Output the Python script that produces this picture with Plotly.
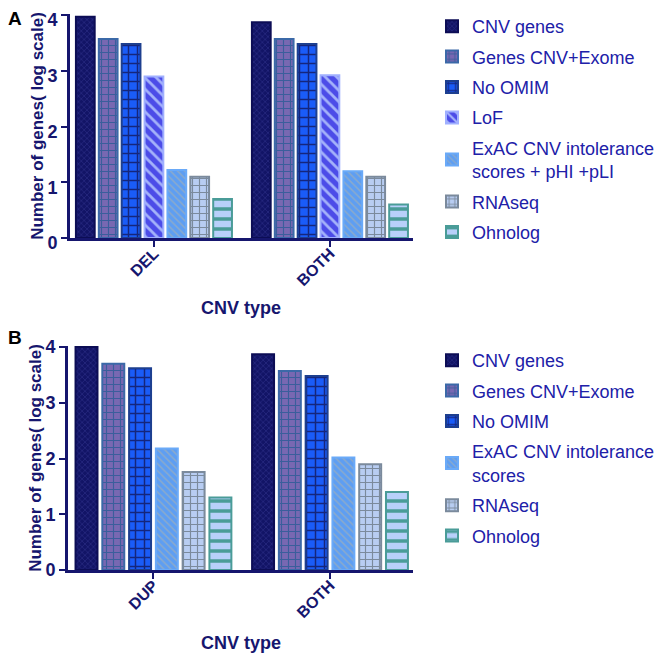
import plotly.graph_objects as go

# ---------------- data ----------------
cats_a = ["DEL", "BOTH"]
series_a = ["CNV genes", "Genes CNV+Exome", "No OMIM", "LoF",
            "ExAC CNV intolerance<br>scores + pHI +pLI", "RNAseq", "Ohnolog"]
values_a = [
    [3.97, 3.87],
    [3.57, 3.57],
    [3.48, 3.48],
    [2.90, 2.92],
    [1.22, 1.20],
    [1.10, 1.10],
    [0.70, 0.60],
]

cats_b = ["DUP", "BOTH"]
series_b = ["CNV genes", "Genes CNV+Exome", "No OMIM",
            "ExAC CNV intolerance<br>scores", "RNAseq", "Ohnolog"]
values_b = [
    [4.00, 3.87],
    [3.70, 3.57],
    [3.62, 3.48],
    [2.18, 2.02],
    [1.76, 1.90],
    [1.30, 1.40],
]

y_ticks = [0, 1, 2, 3, 4]

# ---------------- styles ----------------
styles = {
    "CNV genes": dict(bg="#121466", fg="#2a2d84", shape="x", size=4, solidity=0.3, line="#0c0d55"),
    "Genes CNV+Exome": dict(bg="#7868b2", fg="#3a5e9c", shape="+", size=7, solidity=0.3, line="#3b69a8"),
    "No OMIM": dict(bg="#1a5cf8", fg="#15267c", shape="+", size=9, solidity=0.3, line="#1d3f8f"),
    "LoF": dict(bg="#4c4ce8", fg="#a4b2fa", shape="\\", size=8, solidity=0.35, line="#a0b0ff"),
    "ExAC": dict(bg="#5e9ef2", fg="#8aaacc", shape="\\", size=5, solidity=0.3, line="#6aaaf8"),
    "RNAseq": dict(bg="#b8cdf2", fg="#7b8a9c", shape="+", size=7, solidity=0.3, line="#7b8a9c"),
    "Ohnolog": dict(bg="#b8d0fa", fg="#4a9c98", shape="-", size=10, solidity=0.35, line="#4a9c98"),
}

def style_for(name):
    if name.startswith("ExAC"):
        return styles["ExAC"]
    return styles[name]

NAVY = "#16166e"
LEG = "#2020a8"
FAM = "Liberation Sans, Arial"

# page body has an 8px margin, so the figure is drawn 8px in from the window edge
W, H, OFF = 658, 648, 8

def px_x(x):
    return (x - OFF) / W

def px_y(y):
    return 1 - (y - OFF) / H

fig = go.Figure()

def add_panel(cats, series, values, xa, ya, legend, grp):
    for name, vals in zip(series, values):
        s = style_for(name)
        fig.add_trace(go.Bar(
            x=cats, y=vals, name=name, xaxis=xa, yaxis=ya,
            legend=legend, legendgroup=grp + name,
            marker=dict(
                color=s["bg"],
                line=dict(color=s["line"], width=2),
                pattern=dict(shape=s["shape"], bgcolor=s["bg"], fgcolor=s["fg"],
                             size=s["size"], solidity=s["solidity"], fillmode="replace"),
            ),
        ))

add_panel(cats_a, series_a, values_a, "x", "y", "legend", "a")
add_panel(cats_b, series_b, values_b, "x2", "y2", "legend2", "b")

def xaxis_cfg(domain, anchor, rng):
    return dict(domain=domain, anchor=anchor, range=rng, showline=True, linecolor=NAVY,
                linewidth=3, ticks="outside", ticklen=6, tickwidth=2, tickcolor=NAVY,
                tickangle=-45, automargin=False, ticklabelstandoff=-9,
                tickfont=dict(family=FAM, size=16, color=NAVY, weight="bold"),
                showgrid=False, zeroline=False, fixedrange=True)

def yaxis_cfg(domain, anchor, shift=0):
    return dict(domain=domain, anchor=anchor, range=[0, 4.02], tickvals=y_ticks,
                showline=True, linecolor=NAVY, linewidth=3, ticks="outside", ticklen=6,
                tickwidth=2, tickcolor=NAVY, showgrid=False, zeroline=False, automargin=False,
                ticklabeloverflow="allow", ticklabelshift=shift,
                tickfont=dict(family=FAM, size=18, color=NAVY, weight="bold"),
                title=dict(text="<b>Number of genes( log scale)</b>", font=dict(family=FAM, size=17, color=NAVY), standoff=0))

legend_common = dict(font=dict(family=FAM, size=18, color=LEG),
                     xanchor="left", yanchor="top", bgcolor="rgba(0,0,0,0)",
                     tracegroupgap=4, itemclick=False)

title_font = dict(family=FAM, size=18, color=NAVY)

fig.update_layout(
    width=W, height=H,
    margin=dict(l=0, r=0, t=0, b=0),
    paper_bgcolor="white", plot_bgcolor="white",
    barmode="group", bargap=0.09, bargroupgap=0.18,
    xaxis=xaxis_cfg([px_x(70), px_x(413)], "y", [-0.477, 1.472]),
    yaxis=yaxis_cfg([px_y(238), px_y(14)], "x", shift=5),
    xaxis2=xaxis_cfg([px_x(68), px_x(413)], "y2", [-0.484, 1.47]),
    yaxis2=yaxis_cfg([px_y(570), px_y(346)], "x2"),
    legend=dict(x=px_x(432), y=px_y(8), **legend_common),
    legend2=dict(x=px_x(432), y=px_y(342), **legend_common),
    annotations=[
        dict(text="<b>A</b>", x=0, y=1.0, xref="paper", yref="paper", xanchor="left", yanchor="top",
             xshift=-2, yshift=2, showarrow=False, font=dict(family=FAM, size=19, color="black")),
        dict(text="<b>B</b>", x=0, y=px_y(325), xref="paper", yref="paper", xanchor="left", yanchor="top",
             xshift=-2, showarrow=False, font=dict(family=FAM, size=19, color="black")),
        dict(text="<b>CNV type</b>", x=px_x(241), y=px_y(308), xref="paper", yref="paper",
             xanchor="center", yanchor="middle", showarrow=False, font=title_font),
        dict(text="<b>CNV type</b>", x=px_x(241), y=px_y(643), xref="paper", yref="paper",
             xanchor="center", yanchor="middle", showarrow=False, font=title_font),
    ],
)

fig.write_html("out.html")
